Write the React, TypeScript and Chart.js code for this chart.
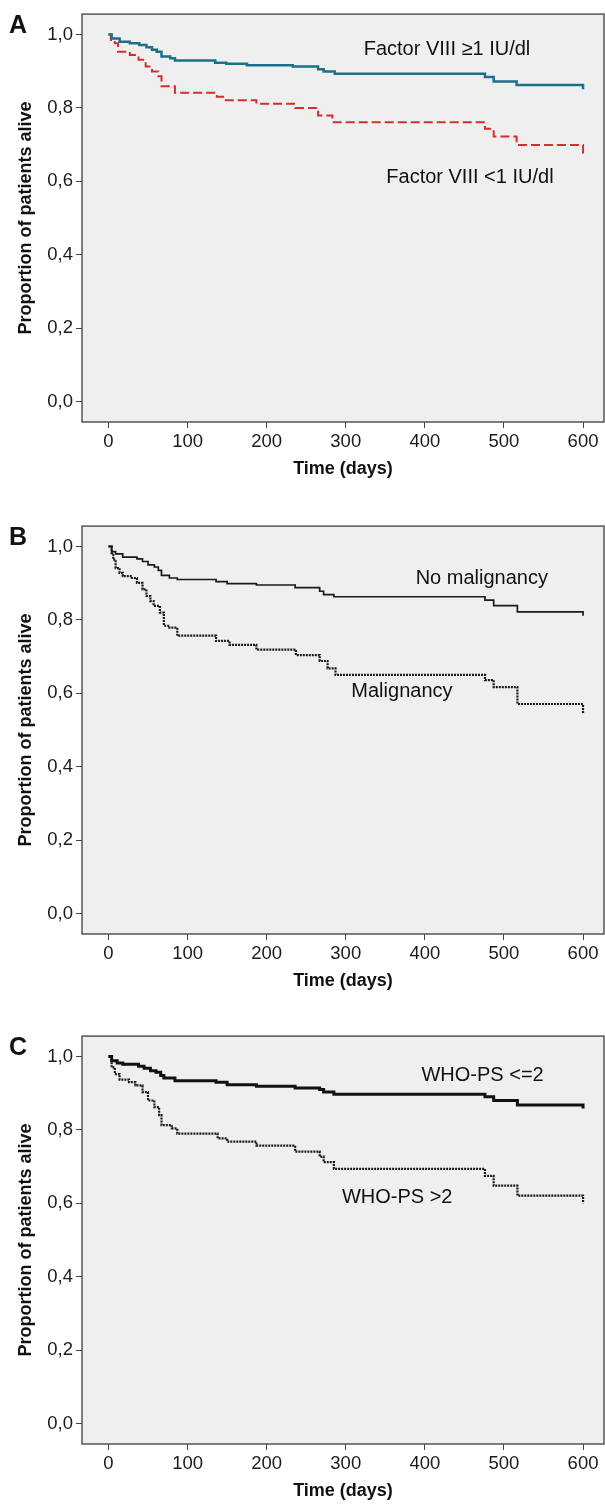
import React, { useEffect, useRef } from "react";
import { Chart, registerables } from "chart.js";

Chart.register(...registerables);

// ---- axis ticks ----
const xTickValues = [0, 100, 200, 300, 400, 500, 600];
const xTickLabels = ["0", "100", "200", "300", "400", "500", "600"];
const yTickValues = [0, 0.2, 0.4, 0.6, 0.8, 1.0];
const yTickLabels = ["0,0", "0,2", "0,4", "0,6", "0,8", "1,0"];

// ---- Panel A: Factor VIII ----
const aHighDays = [0, 4, 14, 27, 39, 48, 55, 61, 67, 78, 84, 135, 149, 175, 233, 265, 272, 286, 476, 487, 516, 600];
const aHighSurv = [1.0, 0.989, 0.98, 0.976, 0.971, 0.965, 0.958, 0.953, 0.94, 0.935, 0.929, 0.923, 0.92, 0.916, 0.913, 0.905, 0.899, 0.893, 0.884, 0.872, 0.862, 0.851];
const aLowDays = [0, 3, 8, 12, 27, 38, 47, 55, 63, 67, 84, 137, 145, 187, 236, 265, 283, 476, 487, 516, 600];
const aLowSurv = [1.0, 0.985, 0.976, 0.953, 0.944, 0.931, 0.913, 0.899, 0.886, 0.859, 0.841, 0.83, 0.821, 0.811, 0.8, 0.779, 0.761, 0.743, 0.722, 0.699, 0.676];

// ---- Panel B: Malignancy ----
const bNoDays = [0, 4, 9, 18, 36, 43, 50, 58, 63, 67, 77, 87, 136, 150, 187, 236, 267, 272, 285, 476, 487, 517, 600];
const bNoSurv = [1.0, 0.986, 0.98, 0.971, 0.966, 0.959, 0.95, 0.944, 0.935, 0.921, 0.914, 0.91, 0.904, 0.899, 0.895, 0.888, 0.878, 0.869, 0.863, 0.854, 0.839, 0.822, 0.811];
const bMalDays = [0, 4, 6, 9, 14, 18, 28, 36, 43, 48, 53, 57, 65, 70, 77, 87, 136, 153, 187, 237, 267, 277, 287, 476, 487, 517, 600];
const bMalSurv = [1.0, 0.982, 0.964, 0.941, 0.928, 0.919, 0.914, 0.901, 0.883, 0.865, 0.851, 0.838, 0.82, 0.784, 0.779, 0.757, 0.743, 0.732, 0.719, 0.704, 0.688, 0.668, 0.65, 0.636, 0.617, 0.571, 0.545];

// ---- Panel C: WHO performance status ----
const cLowDays = [0, 4, 11, 18, 38, 45, 53, 60, 66, 70, 84, 136, 150, 187, 236, 267, 272, 285, 476, 487, 517, 600];
const cLowSurv = [1.0, 0.988, 0.982, 0.979, 0.973, 0.968, 0.961, 0.957, 0.948, 0.941, 0.934, 0.93, 0.923, 0.919, 0.914, 0.91, 0.903, 0.897, 0.89, 0.88, 0.868, 0.858];
const cHighDays = [0, 4, 8, 14, 26, 34, 43, 50, 58, 64, 67, 80, 87, 138, 150, 187, 236, 267, 272, 285, 476, 487, 517, 600];
const cHighSurv = [1.0, 0.97, 0.952, 0.937, 0.93, 0.921, 0.903, 0.88, 0.862, 0.84, 0.813, 0.804, 0.79, 0.777, 0.768, 0.757, 0.741, 0.727, 0.712, 0.694, 0.675, 0.648, 0.621, 0.6];

const FONT = '"Liberation Sans", Arial, sans-serif';

type Series = { label: string; days: number[]; surv: number[]; color: string; width: number; dash: number[] };
type Note = { text: string; x: number; y: number };
type PanelCfg = { letter: string; series: Series[]; notes: Note[] };

const panels: PanelCfg[] = [
  {
    letter: "A",
    series: [
      { label: "Factor VIII ≥1 IU/dl", days: aHighDays, surv: aHighSurv, color: "#1d6f8a", width: 2.5, dash: [] },
      { label: "Factor VIII <1 IU/dl", days: aLowDays, surv: aLowSurv, color: "#d42e2e", width: 2, dash: [9, 4] },
    ],
    notes: [
      { text: "Factor VIII ≥1 IU/dl", x: 428, y: 0.959 },
      { text: "Factor VIII <1 IU/dl", x: 457, y: 0.611 },
    ],
  },
  {
    letter: "B",
    series: [
      { label: "No malignancy", days: bNoDays, surv: bNoSurv, color: "#1a1a1a", width: 1.7, dash: [] },
      { label: "Malignancy", days: bMalDays, surv: bMalSurv, color: "#1a1a1a", width: 2.2, dash: [2, 1] },
    ],
    notes: [
      { text: "No malignancy", x: 472, y: 0.914 },
      { text: "Malignancy", x: 371, y: 0.606 },
    ],
  },
  {
    letter: "C",
    series: [
      { label: "WHO-PS <=2", days: cLowDays, surv: cLowSurv, color: "#111111", width: 3, dash: [] },
      { label: "WHO-PS >2", days: cHighDays, surv: cHighSurv, color: "#1a1a1a", width: 2.2, dash: [2, 1] },
    ],
    notes: [
      { text: "WHO-PS <=2", x: 473, y: 0.949 },
      { text: "WHO-PS >2", x: 365, y: 0.617 },
    ],
  },
];

const CANVAS_W = 605;
const CANVAS_H = 482;
const panelTops = [0, 512, 1022];

function makeDecor(cfg: PanelCfg) {
  return {
    id: "panelDecor" + cfg.letter,
    beforeDraw(chart: any) {
      const { ctx, chartArea: a } = chart;
      ctx.save();
      ctx.fillStyle = "#efefef";
      ctx.fillRect(a.left, a.top, a.right - a.left, a.bottom - a.top);
      ctx.restore();
    },
    afterDraw(chart: any) {
      const { ctx, chartArea: a, scales } = chart;
      ctx.save();
      ctx.strokeStyle = "#555555";
      ctx.lineWidth = 1.5;
      ctx.strokeRect(a.left, a.top, a.right - a.left, a.bottom - a.top);
      ctx.fillStyle = "#111";
      ctx.font = `20px ${FONT}`;
      ctx.textAlign = "center";
      ctx.textBaseline = "middle";
      for (const n of cfg.notes) {
        ctx.fillText(n.text, scales.x.getPixelForValue(n.x), scales.y.getPixelForValue(n.y));
      }
      ctx.font = `bold 25px ${FONT}`;
      ctx.textAlign = "left";
      ctx.fillText(cfg.letter, 9, a.top + 12.5);
      ctx.restore();
    },
  };
}

function Panel({ cfg, top }: { cfg: PanelCfg; top: number }) {
  const ref = useRef<HTMLCanvasElement>(null);
  useEffect(() => {
    const canvas = ref.current;
    if (!canvas) return;
    const chart = new Chart(canvas, {
      type: "line",
      data: {
        datasets: cfg.series.map((s) => ({
          label: s.label,
          data: s.days.map((d, i) => ({ x: d, y: s.surv[i] })),
          borderColor: s.color,
          borderWidth: s.width,
          borderDash: s.dash,
          stepped: true,
          pointRadius: 0,
          fill: false,
          tension: 0,
        })),
      },
      options: {
        responsive: false,
        maintainAspectRatio: false,
        animation: false,
        devicePixelRatio: 1,
        layout: { padding: { top: 11, right: 1, bottom: 0, left: 0 } },
        plugins: { legend: { display: false }, tooltip: { enabled: false } },
        scales: {
          x: {
            type: "linear",
            min: -33.5,
            max: 626.5,
            afterBuildTicks: (s: any) => {
              s.ticks = xTickValues.map((v) => ({ value: v }));
            },
            afterFit: (s: any) => {
              s.height = 60;
            },
            grid: { display: true, drawOnChartArea: false, drawTicks: true, tickLength: 6, color: "#444", lineWidth: 1 },
            border: { display: false },
            ticks: {
              autoSkip: false,
              maxRotation: 0,
              padding: 3,
              color: "#1a1a1a",
              font: { family: FONT, size: 18.5 },
              callback: (_v: any, i: number) => xTickLabels[i],
            },
            title: {
              display: true,
              text: "Time (days)",
              color: "#111",
              font: { family: FONT, size: 18, weight: "bold" },
              padding: { top: 0, bottom: 2 },
            },
          },
          y: {
            type: "linear",
            min: -0.0554,
            max: 1.0554,
            afterBuildTicks: (s: any) => {
              s.ticks = yTickValues.map((v) => ({ value: v }));
            },
            afterFit: (s: any) => {
              s.width = 82;
            },
            grid: { display: true, drawOnChartArea: false, drawTicks: true, tickLength: 6, color: "#444", lineWidth: 1 },
            border: { display: false },
            ticks: {
              autoSkip: false,
              padding: 3,
              color: "#1a1a1a",
              font: { family: FONT, size: 18.5 },
              callback: (_v: any, i: number) => yTickLabels[i],
            },
            title: {
              display: true,
              text: "Proportion of patients alive",
              color: "#111",
              font: { family: FONT, size: 18, weight: "bold" },
              padding: { top: 15, bottom: 0 },
            },
          },
        },
      },
      plugins: [makeDecor(cfg)],
    } as any);
    return () => chart.destroy();
  }, [cfg]);
  return (
    <canvas
      ref={ref}
      width={CANVAS_W}
      height={CANVAS_H}
      style={{ position: "absolute", left: 0, top, width: CANVAS_W, height: CANVAS_H, display: "block" }}
    />
  );
}

export default function App() {
  return (
    <div style={{ position: "absolute", left: 0, top: 0, width: CANVAS_W, height: 1504, background: "#ffffff" }}>
      {panels.map((p, i) => (
        <Panel key={p.letter} cfg={p} top={panelTops[i]} />
      ))}
    </div>
  );
}
